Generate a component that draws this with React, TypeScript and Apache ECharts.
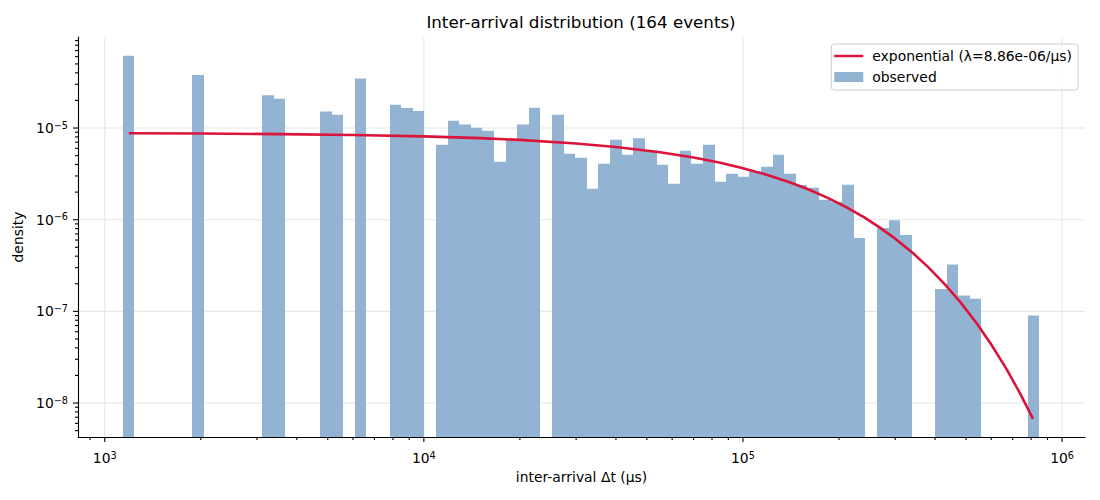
import { useEffect, useRef } from 'react'
import * as echarts from 'echarts'

const FONT = 'DejaVu Sans'
const TITLE = 'Inter-arrival distribution (164 events)'
const FIT_NAME = 'exponential (λ=8.86e-06/μs)'
const HIST_NAME = 'observed'
const X_NAME = 'inter-arrival Δt (μs)'
const Y_NAME = 'density'

// log-spaced histogram bins (μs): left edge of the first, right edge of the last
const BIN_FIRST = 1138.7
const BIN_LAST = 849500
const BIN_COUNT = 79

// density of each bin, null where the bin is empty
const densities: (number | null)[] = [
  6.15e-5, null, null, null, null, null, 3.78e-5, null, null, null,
  null, null, 2.28e-5, 2.09e-5, null, null, null, 1.51e-5, 1.40e-5, null,
  3.48e-5, null, null, 1.79e-5, 1.65e-5, 1.53e-5, null, 6.58e-6, 1.20e-5, 1.09e-5,
  1.01e-5, 9.35e-6, 4.28e-6, 7.45e-6, 1.09e-5, 1.66e-5, null, 1.40e-5, 5.25e-6, 4.74e-6,
  2.18e-6, 4.07e-6, 7.45e-6, 5.12e-6, 7.75e-6, 5.67e-6, 3.98e-6, 2.47e-6, 5.65e-6, 4.08e-6,
  6.58e-6, 2.60e-6, 3.17e-6, 2.94e-6, 3.38e-6, 3.77e-6, 5.12e-6, 3.17e-6, 2.39e-6, 2.23e-6,
  1.65e-6, 1.57e-6, 2.40e-6, 6.30e-7, null, 8.13e-7, 9.85e-7, 6.82e-7, null, null,
  1.75e-7, 3.24e-7, 1.49e-7, 1.37e-7, null, null, null, null, 9.0e-8,
]

// fitted exponential curve
const fitT = [
  1190, 2000, 3500, 6000, 10000, 15000, 20000, 30000, 40000, 55000,
  70000, 85000, 100000, 120000, 140000, 160000, 185000, 210000, 240000, 270000,
  300000, 340000, 380000, 430000, 480000, 540000, 600000, 670000, 740000, 811000,
]
const fitDensity = [
  8.77e-6, 8.70e-6, 8.59e-6, 8.40e-6, 8.11e-6, 7.76e-6, 7.42e-6, 6.79e-6, 6.22e-6, 5.44e-6,
  4.77e-6, 4.17e-6, 3.65e-6, 3.06e-6, 2.56e-6, 2.15e-6, 1.72e-6, 1.38e-6, 1.06e-6, 8.10e-7,
  6.21e-7, 4.36e-7, 3.06e-7, 1.96e-7, 1.26e-7, 7.41e-8, 4.35e-8, 2.34e-8, 1.26e-8, 6.71e-9,
]

const X_MAJOR = [1e3, 1e4, 1e5, 1e6]
const Y_MAJOR = [1e-8, 1e-7, 1e-6, 1e-5]
const X_RANGE = [824.6, 1.18e6]
const Y_RANGE = [4.26e-9, 9.84e-5]

const BAR_COLOR = '#92b3d1'
const LINE_COLOR = '#dc143c'
const GRID_COLOR = '#e6e6e6'

// 2..9 x 10^n inside a range
const minorTicks = (range: number[]) => {
  const out: number[] = []
  for (let e = Math.floor(Math.log10(range[0])); e <= Math.ceil(Math.log10(range[1])); e++) {
    for (let k = 2; k <= 9; k++) {
      const v = k * Math.pow(10, e)
      if (v >= range[0] && v <= range[1]) out.push(v)
    }
  }
  return out
}

const powLabel = (v: number) => {
  const e = Math.log10(v)
  const n = Math.round(e)
  if (Math.abs(e - n) > 1e-6) return ''
  return `{b|10}{s|${n < 0 ? '\u2212' + -n : n}}`
}

const richPow = {
  b: { fontSize: 13.9, fontFamily: FONT, color: '#000', lineHeight: 16 },
  s: { fontSize: 9.7, fontFamily: FONT, color: '#000', lineHeight: 11, verticalAlign: 'top' },
}

export default function App() {
  const chartRef = useRef<HTMLDivElement>(null)

  useEffect(() => {
    if (!chartRef.current) return
    const chart = echarts.init(chartRef.current, null, { renderer: 'svg' })

    const ratio = BIN_LAST / BIN_FIRST
    const edge = (i: number) => BIN_FIRST * Math.pow(ratio, i / BIN_COUNT)
    const bars: number[][] = []
    densities.forEach((d, i) => {
      if (d !== null) bars.push([edge(i), edge(i + 1), d])
    })

    // [x, y, kind]  kind 0 = vertical line, 1 = horizontal line
    const gridLines = [
      ...X_MAJOR.map(v => [v, Y_RANGE[0], 0]),
      ...Y_MAJOR.map(v => [X_RANGE[0], v, 1]),
    ]
    // [x, y, length, kind]
    const ticks = [
      ...X_MAJOR.map(v => [v, Y_RANGE[0], 5, 0]),
      ...minorTicks(X_RANGE).map(v => [v, Y_RANGE[0], 3, 0]),
      ...Y_MAJOR.map(v => [X_RANGE[0], v, 5, 1]),
      ...minorTicks(Y_RANGE).map(v => [X_RANGE[0], v, 3, 1]),
    ]

    chart.setOption({
      animation: false,
      textStyle: { fontFamily: FONT },
      title: {
        text: TITLE,
        left: 576,
        top: 8,
        textAlign: 'center',
        textStyle: { fontSize: 16.7, fontWeight: 'normal', color: '#000', fontFamily: FONT },
      },
      legend: {
        orient: 'vertical',
        right: 22,
        top: 44,
        padding: [5, 6, 6, 3],
        itemGap: 7,
        itemWidth: 29,
        itemHeight: 10,
        borderColor: '#cccccc',
        borderWidth: 1,
        borderRadius: 3,
        backgroundColor: 'rgba(255,255,255,0.8)',
        textStyle: { fontSize: 13.9, color: '#000', fontFamily: FONT, padding: [0, 0, 0, 4] },
        data: [
          { name: FIT_NAME, icon: 'path://M0,0H30V2.6H0Z' },
          { name: HIST_NAME, icon: 'rect' },
        ],
      },
      grid: { left: 78, right: 15, top: 37, bottom: 63 },
      xAxis: {
        type: 'log',
        logBase: 10,
        min: X_RANGE[0],
        max: X_RANGE[1],
        z: 10,
        name: X_NAME,
        nameLocation: 'middle',
        nameGap: 33,
        nameTextStyle: { fontSize: 13.9, color: '#000', fontFamily: FONT },
        axisLine: { show: true, onZero: false, lineStyle: { color: '#000', width: 1.1 } },
        axisTick: { show: false },
        splitLine: { show: false },
        axisLabel: { formatter: powLabel, rich: richPow, margin: 13 },
      },
      yAxis: {
        type: 'log',
        logBase: 10,
        min: Y_RANGE[0],
        max: Y_RANGE[1],
        z: 10,
        name: Y_NAME,
        nameLocation: 'middle',
        nameGap: 44,
        nameTextStyle: { fontSize: 13.9, color: '#000', fontFamily: FONT },
        axisLine: { show: true, lineStyle: { color: '#000', width: 1.1 } },
        axisTick: { show: false },
        splitLine: { show: false },
        axisLabel: { formatter: powLabel, rich: richPow, margin: 10 },
      },
      series: [
        {
          type: 'custom',
          name: 'grid',
          silent: true,
          z: 1,
          data: gridLines,
          encode: { x: 0, y: 1 },
          renderItem: (params: any, api: any) => {
            const kind = api.value(2)
            const a = kind === 0
              ? api.coord([api.value(0), Y_RANGE[0]])
              : api.coord([X_RANGE[0], api.value(1)])
            const b = kind === 0
              ? api.coord([api.value(0), Y_RANGE[1]])
              : api.coord([X_RANGE[1], api.value(1)])
            return {
              type: 'line',
              shape: { x1: a[0], y1: a[1], x2: b[0], y2: b[1] },
              style: { stroke: GRID_COLOR, lineWidth: 1.1 },
            }
          },
        },
        {
          type: 'custom',
          name: HIST_NAME,
          z: 2,
          itemStyle: { color: BAR_COLOR },
          data: bars,
          encode: { x: [0, 1], y: 2 },
          renderItem: (params: any, api: any) => {
            const top = api.coord([api.value(0), api.value(2)])
            const bottom = api.coord([api.value(1), Y_RANGE[0]])
            const x0 = Math.round(top[0])
            const x1 = Math.round(bottom[0])
            return {
              type: 'rect',
              shape: { x: x0, y: top[1], width: x1 - x0, height: bottom[1] - top[1] },
              style: { fill: BAR_COLOR },
            }
          },
        },
        {
          type: 'line',
          name: FIT_NAME,
          z: 3,
          symbol: 'none',
          data: fitT.map((t, i) => [t, fitDensity[i]]),
          lineStyle: { color: LINE_COLOR, width: 2.6 },
          itemStyle: { color: LINE_COLOR },
        },
        {
          type: 'custom',
          name: 'ticks',
          silent: true,
          clip: false,
          z: 4,
          data: ticks,
          encode: { x: 0, y: 1 },
          renderItem: (params: any, api: any) => {
            const len = api.value(2)
            const p = api.coord([api.value(0), api.value(1)])
            const shape = api.value(3) === 0
              ? { x1: p[0], y1: p[1], x2: p[0], y2: p[1] + len }
              : { x1: p[0] - len, y1: p[1], x2: p[0], y2: p[1] }
            return { type: 'line', shape, style: { stroke: '#000', lineWidth: 1.1 } }
          },
        },
      ],
    })

    return () => {
      chart.dispose()
    }
  }, [])

  return (
    <div
      ref={chartRef}
      style={{ position: 'fixed', left: 0, top: 0, width: 1100, height: 500, background: '#fff' }}
    />
  )
}
